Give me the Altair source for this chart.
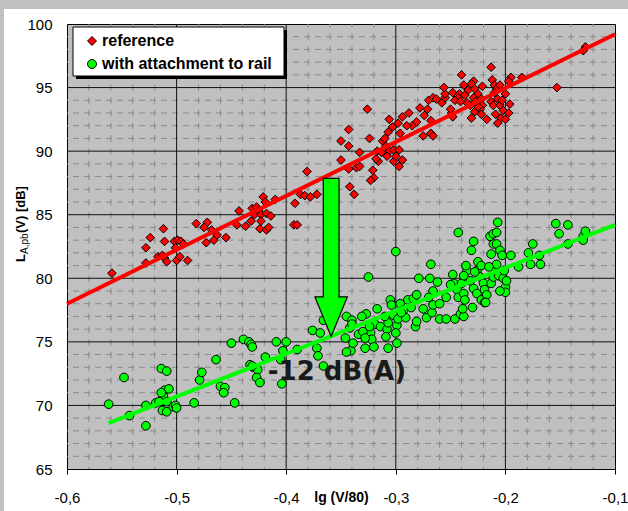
import altair as alt
import pandas as pd

series_names = ["reference", "with attachment to rail"]
series_colors = ["#ff0000", "#00ff00"]
series_shapes = ["diamond", "circle"]

x_ticks = [-0.6, -0.5, -0.4, -0.3, -0.2, -0.1]
y_ticks = [65, 70, 75, 80, 85, 90, 95, 100]
x_major_inner = [-0.5, -0.4, -0.3, -0.2]
y_major_inner = [70, 75, 80, 85, 90, 95]
x_minor = [round(-0.6 + 0.02 * i, 2) for i in range(1, 25) if i % 5 != 0]
y_minor = [v for v in range(66, 100) if v % 5 != 0]

ref_points = [
    (-0.559, 80.4), (-0.528, 82.4), (-0.524, 83.2), (-0.512, 83.9), (-0.511, 82.9), (-0.528, 81.2),
    (-0.517, 81.7), (-0.513, 81.8), (-0.511, 81.6), (-0.509, 81.3),
    (-0.502, 82.9), (-0.499, 83.0), (-0.496, 82.9), (-0.500, 81.4), (-0.497, 81.7), (-0.490, 81.4),
    (-0.501, 82.4), (-0.494, 82.7),
    (-0.482, 84.3), (-0.472, 84.4), (-0.475, 84.0), (-0.468, 83.8), (-0.473, 82.8), (-0.466, 83.0),
    (-0.463, 83.4), (-0.455, 83.2),
    (-0.443, 85.3), (-0.445, 84.2), (-0.437, 84.1), (-0.431, 85.5), (-0.429, 85.0), (-0.427, 85.6),
    (-0.425, 85.3), (-0.423, 85.0), (-0.421, 86.4), (-0.419, 86.0), (-0.418, 85.1), (-0.414, 84.9),
    (-0.424, 83.9), (-0.418, 83.8), (-0.416, 84.0), (-0.432, 84.5), (-0.423, 84.5),
    (-0.410, 86.2), (-0.392, 85.9), (-0.393, 84.2), (-0.390, 84.2), (-0.381, 88.4),
    (-0.387, 86.6), (-0.383, 86.5), (-0.378, 86.4), (-0.372, 86.6),
    (-0.350, 90.8), (-0.343, 91.7), (-0.343, 90.4), (-0.326, 93.3), (-0.324, 91.0), (-0.333, 89.9),
    (-0.350, 89.3), (-0.343, 88.6), (-0.336, 88.7), (-0.333, 88.8), (-0.321, 88.5), (-0.320, 87.9),
    (-0.323, 87.7), (-0.342, 87.2), (-0.338, 86.6),
    (-0.317, 90.0), (-0.316, 89.2), (-0.318, 89.4),
    (-0.312, 90.8), (-0.309, 90.4), (-0.306, 90.0), (-0.302, 90.1), (-0.297, 90.1), (-0.294, 89.3),
    (-0.297, 88.8), (-0.302, 89.2), (-0.308, 89.6), (-0.300, 89.6), (-0.313, 89.9),
    (-0.306, 92.5), (-0.303, 91.9), (-0.298, 92.2), (-0.294, 92.7), (-0.288, 93.0), (-0.285, 92.0),
    (-0.290, 92.0), (-0.307, 91.5), (-0.310, 91.0), (-0.296, 91.4),
    (-0.278, 93.4), (-0.274, 92.8), (-0.271, 93.3), (-0.268, 92.4), (-0.281, 92.3),
    (-0.268, 91.4), (-0.275, 91.2), (-0.266, 91.2),
    (-0.270, 94.0), (-0.266, 94.2), (-0.263, 94.1), (-0.258, 93.8), (-0.255, 94.2), (-0.255, 94.5),
    (-0.256, 95.0), (-0.249, 93.0), (-0.248, 92.7), (-0.250, 93.3),
    (-0.248, 94.6), (-0.242, 94.5), (-0.243, 94.2), (-0.246, 94.0), (-0.237, 94.4), (-0.240, 96.0),
    (-0.238, 95.2), (-0.234, 94.8), (-0.229, 95.5), (-0.231, 95.3), (-0.228, 94.9), (-0.221, 95.1),
    (-0.225, 94.5), (-0.229, 94.2), (-0.222, 94.1), (-0.221, 93.6),
    (-0.232, 93.6), (-0.231, 92.6), (-0.228, 93.1), (-0.223, 93.3), (-0.222, 92.9), (-0.217, 92.5),
    (-0.225, 93.5), (-0.235, 93.8), (-0.241, 93.9), (-0.227, 93.9),
    (-0.213, 96.6), (-0.212, 95.6), (-0.210, 95.2), (-0.208, 94.9), (-0.205, 95.2), (-0.210, 94.6),
    (-0.207, 94.1), (-0.213, 93.9), (-0.211, 93.6), (-0.205, 93.6), (-0.202, 93.2), (-0.209, 92.9),
    (-0.204, 92.6), (-0.207, 92.2), (-0.200, 92.5), (-0.197, 93.0), (-0.196, 93.7), (-0.200, 94.5),
    (-0.203, 94.0), (-0.195, 95.8), (-0.197, 95.5), (-0.185, 95.8),
    (-0.153, 95.0), (-0.127, 98.2), (-0.129, 97.9),
]

att_points = [
    (-0.562, 70.1), (-0.548, 72.2), (-0.543, 69.2), (-0.528, 68.4), (-0.528, 70.0), (-0.519, 70.2),
    (-0.514, 72.9), (-0.509, 72.7), (-0.513, 71.0), (-0.511, 71.2), (-0.507, 71.3), (-0.512, 70.7),
    (-0.514, 71.0), (-0.516, 70.3), (-0.509, 70.3), (-0.513, 69.6), (-0.509, 69.5), (-0.503, 69.9),
    (-0.501, 70.0), (-0.500, 69.8),
    (-0.484, 70.2), (-0.479, 72.0), (-0.477, 72.6), (-0.464, 73.6), (-0.460, 71.5), (-0.456, 71.4),
    (-0.457, 71.0), (-0.447, 70.2),
    (-0.450, 74.9), (-0.439, 75.2), (-0.434, 75.0), (-0.432, 74.8), (-0.431, 74.6),
    (-0.433, 73.2), (-0.430, 73.0), (-0.426, 72.8), (-0.427, 72.2), (-0.424, 71.8), (-0.431, 73.1),
    (-0.419, 73.8), (-0.409, 75.0), (-0.405, 73.6), (-0.400, 75.0), (-0.390, 74.4), (-0.404, 71.7),
    (-0.376, 75.9), (-0.403, 74.3),
    (-0.369, 75.7), (-0.372, 74.5), (-0.371, 73.9), (-0.366, 73.1), (-0.366, 76.7),
    (-0.346, 75.3), (-0.341, 74.3), (-0.345, 74.2), (-0.339, 74.9),
    (-0.345, 77.0), (-0.340, 76.7), (-0.342, 76.1), (-0.334, 75.6), (-0.323, 75.7), (-0.322, 75.2),
    (-0.327, 77.2), (-0.319, 76.4), (-0.340, 76.4), (-0.331, 77.0), (-0.324, 76.2), (-0.330, 75.8),
    (-0.328, 75.3), (-0.328, 74.5), (-0.320, 74.6), (-0.307, 74.5),
    (-0.325, 80.1), (-0.300, 82.1),
    (-0.317, 77.6), (-0.314, 76.2), (-0.308, 76.0), (-0.309, 75.4), (-0.307, 76.5), (-0.305, 78.3),
    (-0.304, 77.9), (-0.302, 77.1), (-0.299, 76.3), (-0.300, 75.7), (-0.299, 74.9), (-0.298, 76.8),
    (-0.296, 78.0), (-0.293, 77.5), (-0.291, 76.9), (-0.289, 78.3), (-0.286, 77.7), (-0.284, 78.4),
    (-0.281, 78.7), (-0.282, 76.2), (-0.281, 76.6), (-0.310, 77.0), (-0.295, 77.3),
    (-0.279, 80.0), (-0.269, 80.0), (-0.268, 81.1), (-0.266, 79.0), (-0.272, 76.9),
    (-0.275, 77.6), (-0.267, 77.3), (-0.266, 77.9), (-0.260, 78.0), (-0.254, 78.5), (-0.260, 76.8),
    (-0.254, 76.8), (-0.246, 76.8), (-0.270, 78.5), (-0.262, 79.7),
    (-0.248, 80.3), (-0.247, 79.6), (-0.244, 79.1), (-0.243, 78.5), (-0.240, 79.6), (-0.238, 78.8),
    (-0.237, 78.3), (-0.241, 77.2), (-0.238, 77.0), (-0.239, 77.6), (-0.230, 77.7), (-0.235, 80.6),
    (-0.236, 81.0), (-0.238, 80.2), (-0.250, 79.5),
    (-0.243, 83.6), (-0.231, 82.2), (-0.229, 82.9),
    (-0.232, 79.8), (-0.229, 79.2), (-0.226, 80.6), (-0.225, 81.3), (-0.222, 81.0), (-0.223, 80.1),
    (-0.220, 79.6), (-0.219, 79.1), (-0.226, 78.8), (-0.222, 78.3), (-0.217, 78.7), (-0.219, 78.1),
    (-0.213, 79.6), (-0.211, 80.1), (-0.209, 80.6), (-0.208, 81.1), (-0.213, 81.9), (-0.211, 82.7),
    (-0.214, 83.3), (-0.211, 83.5), (-0.208, 83.6), (-0.207, 84.4), (-0.208, 82.7), (-0.205, 82.2),
    (-0.203, 81.8), (-0.206, 80.2), (-0.202, 80.0), (-0.200, 79.3), (-0.200, 78.9), (-0.199, 79.8),
    (-0.195, 81.8), (-0.201, 80.6), (-0.218, 78.1), (-0.228, 80.5), (-0.215, 80.9), (-0.205, 79.0),
    (-0.188, 80.9), (-0.179, 82.0), (-0.175, 82.7), (-0.177, 81.1), (-0.169, 81.8), (-0.168, 81.1),
    (-0.154, 84.3), (-0.143, 84.2), (-0.151, 83.5), (-0.143, 82.7), (-0.129, 83.3), (-0.127, 83.7),
    (-0.129, 83.0),
]

fit_ref_x = [-0.6, -0.1]
fit_ref_y = [78.0, 99.2]
fit_att_x = [-0.562, -0.1]
fit_att_y = [68.6, 84.2]

arrow_x = -0.359
arrow_y = 81.64
arrow_size = 158 * 158
arrow_path = "M-0.1,-1 L0.1,-1 L0.1,0.5 L0.205,0.5 L0,1 L-0.205,0.5 L-0.1,0.5 Z"

note_text = "-12 dB(A)"
note_x = -0.3537
note_y = 71.99

W, H = 548, 445
FONT = "Liberation Sans"

pts = pd.DataFrame(
    [{"x": x, "y": y, "series": series_names[0]} for x, y in ref_points]
    + [{"x": x, "y": y, "series": series_names[1]} for x, y in att_points]
)
fit_ref = pd.DataFrame({"x": fit_ref_x, "y": fit_ref_y})
fit_att = pd.DataFrame({"x": fit_att_x, "y": fit_att_y})

xscale = alt.Scale(domain=[-0.6, -0.1], nice=False, zero=False)
yscale = alt.Scale(domain=[65, 100], nice=False, zero=False)
xaxis = alt.Axis(
    values=x_ticks, labelExpr="replace(toString(datum.value), '.', ',')",
    grid=False, domain=False, tickSize=5, tickColor="black", tickWidth=1,
    labelFont=FONT, labelFontSize=15, labelColor="black", labelBaseline="middle",
    labelPadding=23, labelFlush=False,
    title="lg (V/80)", titleFont=FONT, titleFontSize=14, titleFontWeight="bold",
    titleColor="black", titleBaseline="middle", titleY=28,
)
yaxis = alt.Axis(
    values=y_ticks, grid=False, domain=False, ticks=False,
    labelFont=FONT, labelFontSize=15, labelColor="black", labelPadding=15,
    title=None,
)
X = alt.X("x:Q", scale=xscale, axis=xaxis, title="lg (V/80)")
Y = alt.Y("y:Q", scale=yscale, axis=yaxis)
COLOR = alt.Color("series:N", scale=alt.Scale(domain=series_names, range=series_colors), legend=None)
SHAPE = alt.Shape("series:N", scale=alt.Scale(domain=series_names, range=series_shapes), legend=None)

one = alt.Data(values=[{}])

top_strip = alt.Chart(one).mark_rect(color="#c0c0c0").encode(
    x=alt.value(-67), x2=alt.value(561), y=alt.value(-24), y2=alt.value(-15))
left_strip = alt.Chart(one).mark_rect(color="#c0c0c0").encode(
    x=alt.value(-67), x2=alt.value(-63), y=alt.value(-24), y2=alt.value(487))

minor_v = alt.Chart(pd.DataFrame({"x": x_minor})).mark_rule(
    color="#8a8a8a", strokeWidth=1, strokeDash=[6.37, 6.37], strokeDashOffset=3.2
).encode(x=X)
minor_h = alt.Chart(pd.DataFrame({"y": y_minor})).mark_rule(
    color="#8a8a8a", strokeWidth=1, strokeDash=[6, 5], strokeDashOffset=3
).encode(y=Y)
major_v = alt.Chart(pd.DataFrame({"x": x_major_inner})).mark_rule(
    color="#111111", strokeWidth=1).encode(x=X)
major_h = alt.Chart(pd.DataFrame({"y": y_major_inner})).mark_rule(
    color="#111111", strokeWidth=1).encode(y=Y)

points = alt.Chart(pts).mark_point(
    filled=True, stroke="black", strokeWidth=1, opacity=1, size=75
).encode(x=X, y=Y, color=COLOR, shape=SHAPE)

line_ref = alt.Chart(fit_ref).mark_line(color="#ff0000", strokeWidth=4).encode(x=X, y=Y)
line_att = alt.Chart(fit_att).mark_line(color="#00ff00", strokeWidth=4).encode(x=X, y=Y)

arrow = alt.Chart(pd.DataFrame({"x": [arrow_x], "y": [arrow_y]})).mark_point(
    shape=arrow_path, size=arrow_size, filled=True, fill="#00ff00",
    stroke="black", strokeWidth=1.2, opacity=1
).encode(x=X, y=Y)

note = alt.Chart(pd.DataFrame({"x": [note_x], "y": [note_y], "t": [note_text]})).mark_text(
    font="DejaVu Sans", fontSize=26, fontWeight="bold", color="#1a1a1a",
    align="center", baseline="alphabetic"
).encode(x=X, y=Y, text="t:N")

# legend box (drawn as marks so that the bold labels and the drop shadow match)
legend_shadow = alt.Chart(one).mark_rect(color="black").encode(
    x=alt.value(9), x2=alt.value(220), y=alt.value(6), y2=alt.value(55))
legend_box = alt.Chart(one).mark_rect(fill="white", stroke="black", strokeWidth=1).encode(
    x=alt.value(6), x2=alt.value(217), y=alt.value(3), y2=alt.value(52))
legend_rows = pd.DataFrame({"series": series_names, "row": [17, 40]})
legend_syms = alt.Chart(legend_rows).mark_point(
    filled=True, stroke="black", strokeWidth=1, opacity=1, size=80
).encode(x=alt.value(25), y=alt.Y("row:Q", scale=None), color=COLOR, shape=SHAPE)
legend_text = alt.Chart(legend_rows).mark_text(
    font=FONT, fontSize=16, fontWeight="bold", color="black", align="left", baseline="middle"
).encode(x=alt.value(35), y=alt.Y("row:Q", scale=None), text="series:N")

def ytitle(txt, ypos, xpos, size, weight):
    return alt.Chart(one).mark_text(
        text=txt, angle=270, align="left", baseline="alphabetic",
        font=FONT, fontSize=size, fontWeight=weight, color="black"
    ).encode(x=alt.value(xpos), y=alt.value(ypos))

yt1 = ytitle("L", 238, -42, 13, "bold")
yt2 = ytitle("A,pb", 230, -39, 10, "normal")
yt3 = ytitle("(V) [dB]", 209, -42, 13, "bold")

chart = alt.layer(
    top_strip, left_strip, minor_v, minor_h, major_v, major_h,
    points, line_ref, line_att, arrow, note,
    legend_shadow, legend_box, legend_syms, legend_text,
    yt1, yt2, yt3
).properties(
    width=W, height=H, autosize="none",
    padding={"left": 67, "top": 24, "right": 13, "bottom": 42},
).configure(background="white").configure_view(
    fill="#c0c0c0", stroke="black", strokeWidth=1
)

chart.save("out.html", embed_options={"renderer": "svg", "actions": False})
